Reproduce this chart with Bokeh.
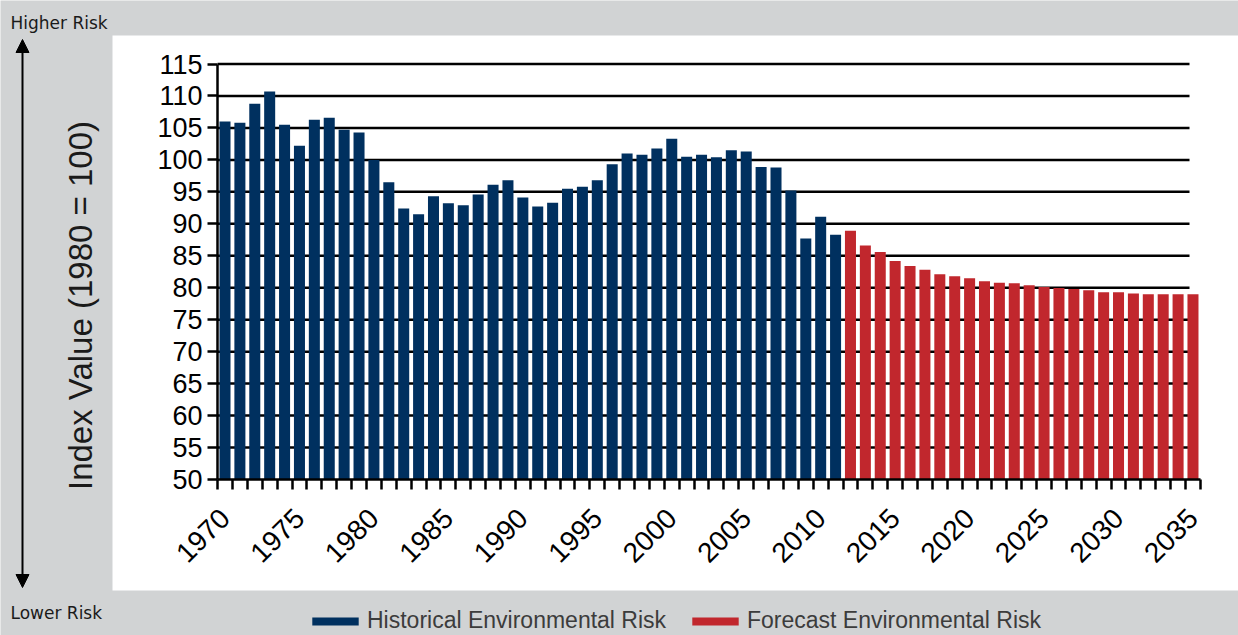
import math

from bokeh.embed import file_html
from bokeh.models import (Arrow, BoxAnnotation, ColumnDataSource, FixedTicker, Label,
                          Legend, LegendItem, LinearAxis, NormalHead, Range1d)
from bokeh.plotting import figure
from bokeh.resources import INLINE

# ---- data -----------------------------------------------------------------
hist_years = list(range(1970, 2012))
hist_values = [106.0, 105.8, 108.8, 110.7, 105.5, 102.2, 106.3, 106.6, 104.7, 104.3,
               100.0, 96.5, 92.4, 91.5, 94.3, 93.2, 92.9, 94.6, 96.1, 96.8,
               94.1, 92.7, 93.3, 95.5, 95.8, 96.8, 99.3, 101.0, 100.8, 101.8,
               103.3, 100.5, 100.8, 100.4, 101.5, 101.3, 98.9, 98.8, 95.2, 87.7,
               91.1, 88.3]

forecast_years = list(range(2012, 2036))
forecast_values = [88.9, 86.6, 85.6, 84.2, 83.4, 82.8, 82.1, 81.8, 81.5, 81.0,
                   80.8, 80.7, 80.4, 80.1, 79.95, 79.8, 79.6, 79.3, 79.3, 79.1,
                   79.0, 79.0, 79.0, 79.0]

x_tick_years = [1970, 1975, 1980, 1985, 1990, 1995, 2000, 2005, 2010, 2015,
                2020, 2025, 2030, 2035]
y_tick_values = [50, 55, 60, 65, 70, 75, 80, 85, 90, 95, 100, 105, 110, 115]

series_names = ["Historical Environmental Risk", "Forecast Environmental Risk"]
y_title = "Index Value (1980 = 100)"
top_note = "Higher Risk"
bottom_note = "Lower Risk"

# ---- styling ----------------------------------------------------------------
GRAY = "#d1d3d4"
NAVY = "#00305f"
RED = "#c1272d"
TEXT = "#1a1a1a"
TICK_FONT = "Liberation Sans"

# ---- canvas geometry: the plot frame fills the whole canvas -----------------
W, H = 1238, 635
PITCH = 14.892      # px per year
UNIT = 6.392        # px per index point
X_1970 = 224.5      # px position of the 1970 bar centre
Y_50 = 479.0        # px position of the 50 baseline

x_lo = 1970 - X_1970 / PITCH
x_hi = x_lo + W / PITCH
y_lo = 50 - (H - Y_50) / UNIT
y_hi = y_lo + H / UNIT


def at_x(px):
    """Canvas pixel column -> data x."""
    return x_lo + px / PITCH


def at_y(py):
    """Canvas pixel row (from top) -> data y."""
    return y_hi - py / UNIT


p = figure(width=W, height=H, output_backend="svg", toolbar_location=None,
           x_range=Range1d(x_lo, x_hi), y_range=Range1d(y_lo, y_hi),
           x_axis_location=None, y_axis_location=None, min_border=0)
p.min_border_left = p.min_border_right = p.min_border_top = p.min_border_bottom = 0
p.grid.visible = False
p.background_fill_color = GRAY
p.border_fill_color = GRAY
p.outline_line_color = None

# white chart panel
p.add_layout(BoxAnnotation(left=at_x(112), right=at_x(1238), top=at_y(35), bottom=at_y(590),
                           fill_color="white", fill_alpha=1.0, line_color=None,
                           level="underlay"))

# horizontal rules at each major y tick above the baseline
first_edge = hist_years[0] - 0.5
last_edge = forecast_years[-1] + 0.5
rule_levels = [v for v in y_tick_values if v > y_tick_values[0]]
p.segment(x0=[first_edge] * len(rule_levels), x1=[at_x(1189)] * len(rule_levels),
          y0=rule_levels, y1=rule_levels, line_color="black", line_width=2.5)

# bars
hist_src = ColumnDataSource(dict(year=hist_years, value=hist_values))
fc_src = ColumnDataSource(dict(year=forecast_years, value=forecast_values))
r_hist = p.vbar(x="year", top="value", bottom=y_tick_values[0], width=0.74,
                source=hist_src, fill_color=NAVY, line_color=None)
r_fc = p.vbar(x="year", top="value", bottom=y_tick_values[0], width=0.74,
              source=fc_src, fill_color=RED, line_color=None)

# y axis drawn at the left edge of the first bar slot
yaxis = LinearAxis(fixed_location=first_edge, bounds=(y_tick_values[0], y_tick_values[-1]),
                   ticker=FixedTicker(ticks=y_tick_values, minor_ticks=[]),
                   axis_line_width=2.5, axis_line_color="black",
                   major_tick_out=10, major_tick_in=0, major_tick_line_width=2.5,
                   minor_tick_out=0, minor_tick_in=0,
                   major_label_standoff=5,
                   major_label_text_font=TICK_FONT, major_label_text_font_size="27px",
                   major_label_text_color="black")
p.add_layout(yaxis, "left")

# x axis on the 50 baseline, tick marks between the yearly bars
all_years = hist_years + forecast_years
slot_edges = [y - 0.5 for y in all_years] + [last_edge]
xaxis = LinearAxis(fixed_location=y_tick_values[0], bounds=(first_edge, last_edge),
                   ticker=FixedTicker(ticks=x_tick_years, minor_ticks=slot_edges),
                   axis_line_width=2.5, axis_line_color="black",
                   major_tick_out=0, major_tick_in=0, major_tick_line_color=None,
                   minor_tick_out=10, minor_tick_in=0, minor_tick_line_width=2.5,
                   minor_tick_line_color="black",
                   major_label_orientation=math.pi / 4, major_label_standoff=24,
                   major_label_text_font=TICK_FONT, major_label_text_font_size="28px",
                   major_label_text_color="black")
p.add_layout(xaxis, "below")

# y title in the grey margin
p.add_layout(Label(x=at_x(80), y=at_y(305), text=y_title, angle=math.pi / 2,
                   text_align="center", text_baseline="alphabetic",
                   text_font=TICK_FONT, text_font_size="33px", text_color=TEXT))

# risk direction arrow with notes
head = dict(size=13, fill_color="black", line_color="black")
p.add_layout(Arrow(x_start=at_x(22), y_start=at_y(587), x_end=at_x(22), y_end=at_y(39),
                   line_width=2, line_color="black",
                   start=NormalHead(**head), end=NormalHead(**head)))
p.add_layout(Label(x=at_x(10), y=at_y(22.7), text=top_note, text_align="left",
                   text_baseline="alphabetic", text_font="DejaVu Sans",
                   text_font_size="17px", text_color=TEXT))
p.add_layout(Label(x=at_x(10), y=at_y(612.7), text=bottom_note, text_align="left",
                   text_baseline="alphabetic", text_font="DejaVu Sans",
                   text_font_size="17px", text_color=TEXT))

# legend along the bottom strip
legend = Legend(items=[LegendItem(label=series_names[0], renderers=[r_hist]),
                       LegendItem(label=series_names[1], renderers=[r_fc])],
                location=(306, 1), orientation="horizontal",
                glyph_width=58, glyph_height=10, label_standoff=3, label_width=310,
                spacing=9, padding=0, margin=0,
                background_fill_alpha=0, border_line_color=None,
                label_text_font=TICK_FONT, label_text_font_size="23px",
                label_text_color="#3c3c3c")
p.add_layout(legend)

open("out.html", "w").write(file_html(p, INLINE))
